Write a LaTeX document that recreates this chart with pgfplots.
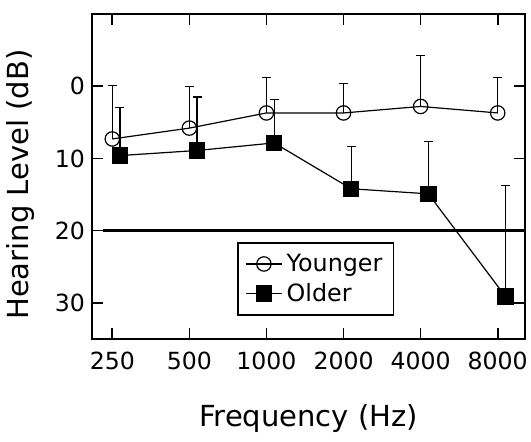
\documentclass[border=0pt]{standalone}
\usepackage{pgfplots}
\pgfplotsset{compat=1.18}
\usepackage{fontspec}
\setmainfont{DejaVu Sans}
\begin{document}
\begin{tikzpicture}
\useasboundingbox (-46pt,-51.5pt) rectangle (219.5pt,169.5pt);
\begin{axis}[
  at={(0,0)}, anchor=south west,
  scale only axis, width=216.5pt, height=162.5pt,
  xmin=-0.263, xmax=5.354,
  ymin=-10, ymax=35, y dir=reverse,
  xtick={0,1,2,3,4,5},
  xticklabels={250,500,1000,2000,4000,8000},
  ytick={0,10,20,30},
  tick align=inside, major tick length=5.5pt,
  tick style={black, line width=0.8pt},
  axis line style={line width=0.8pt},
  /pgf/number format/assume math mode=true,
  tick label style={font=\fontsize{11.8}{14}\selectfont},
  xticklabel style={yshift=-3pt},
  xlabel={Frequency (Hz)},
  ylabel={Hearing Level (dB)},
  label style={font=\fontsize{14.5}{17}\selectfont},
  xlabel style={at={(axis description cs:0.5,-0.268)}, anchor=base},
  ylabel style={at={(axis description cs:-0.166,0.475)}, anchor=center},
  legend style={at={(axis description cs:0.3356,0.2985)}, anchor=north west,
    font=\fontsize{11.9}{14}\selectfont, draw=black, line width=0.8pt,
    inner xsep=3.5pt, inner ysep=3.5pt, row sep=0.5pt},
  legend cell align=left,
  legend image code/.code={
    \draw[#1, mark repeat=2, mark phase=2] plot coordinates {(0cm,0cm) (0.32cm,0cm) (0.64cm,0cm)};},
]
\addplot[black, line width=1.5pt, forget plot] coordinates {(-0.12,20) (5.354,20)};
\addplot[black, line width=0.6pt, mark=o, mark size=3.6pt,
  mark options={fill=white, line width=0.6pt},
  error bars/.cd, y dir=minus, y explicit,
  error bar style={line width=0.6pt},
  error mark options={rotate=90, mark size=2.25pt, line width=0.6pt}]
  table[x=x, y=y, y error=e] {
x y e
0 7.3 7.4
1 5.8 5.8
2 3.7 4.9
3 3.7 4.1
4 2.8 7.1
5 3.7 4.9
};
\addlegendentry{Younger}
\addplot[black, line width=0.6pt, mark=square*, mark size=3.8pt,
  mark options={fill=black, line width=0.6pt},
  error bars/.cd, y dir=minus, y explicit,
  error bar style={line width=0.6pt},
  error mark options={rotate=90, mark size=2.25pt, line width=0.6pt}]
  table[x=x, y=y, y error=e] {
x y e
0.1 9.6 6.6
1.1 8.9 7.4
2.1 7.85 6.0
3.1 14.2 5.9
4.1 14.9 7.3
5.1 29.1 15.3
};
\addlegendentry{Older}
\end{axis}
\end{tikzpicture}
\end{document}
